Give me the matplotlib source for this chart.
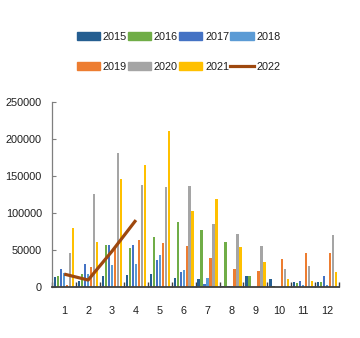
import numpy as np
import matplotlib.pyplot as plt
from matplotlib.patches import Patch
from matplotlib.lines import Line2D

plt.rcParams['font.family'] = ['Liberation Sans', 'DejaVu Sans']

months = ['1', '2', '3', '4', '5', '6', '7', '8', '9', '10', '11', '12']
years = ['2015', '2016', '2017', '2018', '2019', '2020', '2021']

y2015 = [13500, 7500, 14400, 15500, 17000, 11700, 10000, 500, 14400, 11000, 6000, 6000]
y2016 = [14400, 17000, 56000, 52000, 67500, 87000, 77000, 61000, 15000, 1000, 5000, 6000]
y2017 = [24000, 30000, 56000, 56000, 36000, 19400, 3000, 500, 0, 0, 8000, 15000]
y2018 = [19000, 17000, 29000, 31000, 43000, 22500, 12000, 500, 0, 0, 2000, 2000]
y2019 = [2000, 27000, 55000, 63000, 58500, 55000, 39000, 24000, 21000, 37000, 45000, 45000]
y2020 = [45000, 125000, 181000, 138000, 135000, 136000, 85000, 71000, 55000, 23500, 28000, 70000]
y2021 = [79000, 61000, 146000, 165000, 210000, 102700, 119000, 54000, 34000, 10000, 7500, 20000]
y2022 = [17000, 9000, 48000, 90000]

bars = [y2015, y2016, y2017, y2018, y2019, y2020, y2021]
colors = ['#255E91', '#70AD47', '#4472C4', '#5B9BD5', '#ED7D31', '#A5A5A5', '#FFC000']
line_color = '#9E480E'
txt = '#1f1f1f'
fs = 7.8

fig = plt.figure(figsize=(3.6, 3.38), dpi=100)
ax = fig.add_axes([0.1453, 0.1518, 0.7964, 0.5472])

x = np.arange(len(months))
step = 0.125
for k, vals in enumerate(bars):
    ax.bar(x + (k - 3) * step, vals, width=0.1, color=colors[k], zorder=2)

ax.plot(x[:len(y2022)], y2022, color=line_color, lw=2.3, zorder=3,
        solid_capstyle='butt')

ax.set_xlim(-0.5, 11.5)
ax.set_ylim(0, 250000)
ax.set_yticks(range(0, 250001, 50000))
ax.set_xticks(x)
ax.set_xticklabels(months)
ax.set_xticks(np.arange(-0.5, 12, 1), minor=True)

ax.tick_params(axis='x', which='major', length=0, pad=14, labelsize=fs, labelcolor=txt)
ax.tick_params(axis='x', which='minor', direction='in', length=3.5, width=1, color='#404040')
ax.tick_params(axis='y', direction='in', length=3, width=0.8, color='#7f7f7f',
               pad=7.5, labelsize=fs, labelcolor=txt)

for s in ['top', 'right']:
    ax.spines[s].set_visible(False)
ax.spines['left'].set_color('#7f7f7f')
ax.spines['left'].set_linewidth(0.9)
ax.spines['bottom'].set_color('#404040')
ax.spines['bottom'].set_linewidth(1.3)

handles = [Patch(color=c) for c in colors] + [Line2D([], [], color=line_color, lw=2.3)]
labels = years + ['2022']
order = [0, 4, 1, 5, 2, 6, 3, 7]
fig.legend([handles[i] for i in order], [labels[i] for i in order],
           loc='center', bbox_to_anchor=(0.496, 0.847), ncol=4, frameon=False,
           fontsize=fs, labelcolor=txt, handlelength=2.15, handleheight=0.65,
           handletextpad=0.25, columnspacing=0.1, labelspacing=1.85, borderpad=0)

fig.savefig('out.png', dpi=100)
